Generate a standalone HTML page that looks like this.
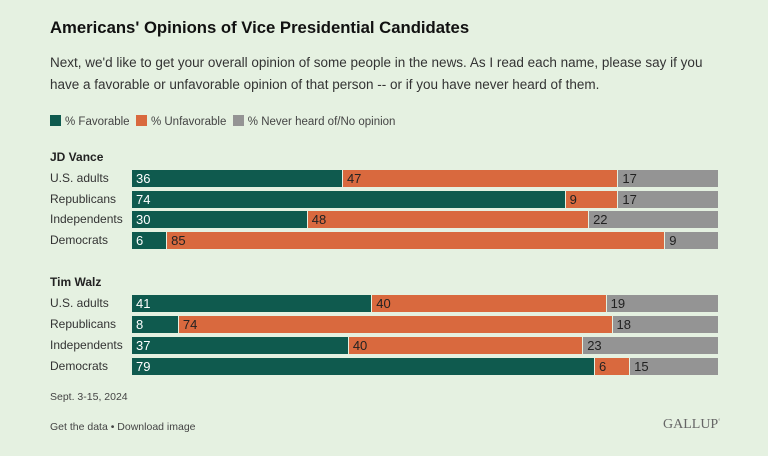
<!DOCTYPE html><html><head><style>
body{margin:0;width:768px;height:456px;background:#e5f1e1;font-family:"Liberation Sans",sans-serif;position:relative;overflow:hidden;color:#222}
.a{position:absolute;white-space:nowrap}
.bar{position:absolute;left:132px;width:586px;height:17px;display:flex}
.bar div{height:17px;font-size:13px;line-height:17px;padding-left:4px;box-sizing:border-box;border-right:1.5px solid #e5f1e1}
.f{background:#0f5a4e;color:#fff}.u{background:#d9693e;color:#222}.n{background:#949494;color:#222;border-right:none!important}
.lab{position:absolute;left:50px;font-size:12px;color:#333}
.sw{display:inline-block;width:11px;height:11px;vertical-align:-1px;margin-right:4px}
</style></head><body>
<div class="a" style="left:50px;top:18px;font-size:16.7px;font-weight:bold;color:#111">Americans' Opinions of Vice Presidential Candidates</div>
<div class="a" style="left:50px;top:52px;font-size:13.5px;color:#333;line-height:22px">Next, we'd like to get your overall opinion of some people in the news. As I read each name, please say if you<br>have a favorable or unfavorable opinion of that person -- or if you have never heard of them.</div>
<div class="a" style="left:50px;top:115px;font-size:11.5px;color:#444"><span class="sw" style="background:#0f5a4e"></span>% Favorable&nbsp;&nbsp;<span class="sw" style="background:#d9693e"></span>% Unfavorable&nbsp;&nbsp;<span class="sw" style="background:#949494"></span>% Never heard of/No opinion</div>
<div class="a" style="left:50px;top:150px;font-size:12px;font-weight:bold">JD Vance</div>
<div class="lab" style="top:171px">U.S. adults</div>
<div class="bar" style="top:170px"><div class="f" style="width:36%">36</div><div class="u" style="width:47%">47</div><div class="n" style="width:17%">17</div></div>
<div class="lab" style="top:192px">Republicans</div>
<div class="bar" style="top:191px"><div class="f" style="width:74%">74</div><div class="u" style="width:9%">9</div><div class="n" style="width:17%">17</div></div>
<div class="lab" style="top:212px">Independents</div>
<div class="bar" style="top:211px"><div class="f" style="width:30%">30</div><div class="u" style="width:48%">48</div><div class="n" style="width:22%">22</div></div>
<div class="lab" style="top:233px">Democrats</div>
<div class="bar" style="top:232px"><div class="f" style="width:6%">6</div><div class="u" style="width:85%">85</div><div class="n" style="width:9%">9</div></div>
<div class="a" style="left:50px;top:275px;font-size:12px;font-weight:bold">Tim Walz</div>
<div class="lab" style="top:296px">U.S. adults</div>
<div class="bar" style="top:295px"><div class="f" style="width:41%">41</div><div class="u" style="width:40%">40</div><div class="n" style="width:19%">19</div></div>
<div class="lab" style="top:317px">Republicans</div>
<div class="bar" style="top:316px"><div class="f" style="width:8%">8</div><div class="u" style="width:74%">74</div><div class="n" style="width:18%">18</div></div>
<div class="lab" style="top:338px">Independents</div>
<div class="bar" style="top:337px"><div class="f" style="width:37%">37</div><div class="u" style="width:40%">40</div><div class="n" style="width:23%">23</div></div>
<div class="lab" style="top:359px">Democrats</div>
<div class="bar" style="top:358px"><div class="f" style="width:79%">79</div><div class="u" style="width:6%">6</div><div class="n" style="width:15%">15</div></div>
<div class="a" style="left:50px;top:391px;font-size:10.5px;color:#444">Sept. 3-15, 2024</div>
<div class="a" style="left:50px;top:421px;font-size:10.5px;color:#444">Get the data • Download image</div>
<div class="a" style="left:663px;top:417px;font-size:14px;font-family:'Liberation Serif',serif;color:#666">GALLUP<sup style="font-size:5px">°</sup></div>
</body></html>
